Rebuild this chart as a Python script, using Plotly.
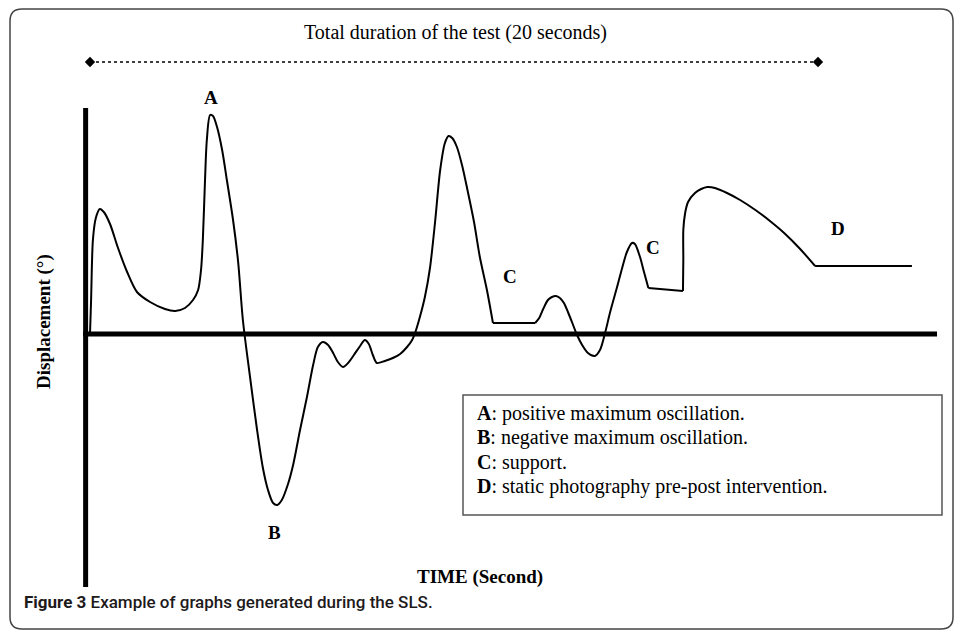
import plotly.graph_objects as go

W, H = 957, 632

# ---------------- data (time in s, displacement in degrees) ----------------
seg1_t = [0.00, 0.03, 0.08, 0.16, 0.27, 0.38, 0.55, 0.77, 1.02, 1.29, 1.65, 2.06, 2.34, 2.61,
          2.83, 2.97, 3.05, 3.10, 3.16, 3.21, 3.30, 3.38, 3.49, 3.63, 3.76, 3.93, 4.07, 4.20,
          4.40, 4.59, 4.75, 4.89, 5.03, 5.14, 5.27, 5.44, 5.58, 5.77, 5.96, 6.13, 6.26, 6.40,
          6.54, 6.68, 6.81, 6.95, 7.09, 7.25, 7.42, 7.55, 7.66, 7.77, 7.88, 8.10, 8.32, 8.52,
          8.71, 8.85, 8.93, 9.07, 9.20, 9.34, 9.48, 9.62, 9.75, 9.85, 9.95, 10.08, 10.22,
          10.37, 10.55, 10.71, 10.91, 11.07]
seg1_d = [0.0, 3.4, 9.4, 11.6, 12.5, 12.2, 11.0, 8.6, 6.2, 4.2, 3.2, 2.5, 2.3, 2.6,
          3.4, 4.4, 6.4, 9.4, 15.4, 19.4, 21.9, 21.8, 20.7, 18.4, 15.4, 11.4, 7.2, 1.4,
          -4.4, -9.6, -13.4, -15.6, -16.9, -17.1, -16.6, -15.0, -13.1, -9.6, -6.3, -3.1, -1.3, -0.8,
          -1.1, -1.9, -2.8, -3.3, -2.9, -2.1, -1.2, -0.6, -1.0, -2.1, -2.9, -2.7, -2.4, -2.0,
          -1.3, -0.6, 0.1, 1.8, 3.7, 6.6, 11.2, 16.4, 19.1, 19.8, 19.6, 18.7, 16.9,
          14.4, 11.2, 7.7, 4.3, 1.1]
seg2_t = [11.07, 12.23]
seg2_d = [1.1, 1.1]
seg3_t = [12.23, 12.34, 12.45, 12.58, 12.69, 12.80, 12.91, 13.02, 13.13, 13.24, 13.38, 13.52,
          13.68, 13.87, 14.01, 14.15, 14.29, 14.48, 14.62, 14.75, 14.89, 14.97, 15.11, 15.22, 15.34]
seg3_d = [1.1, 1.6, 2.5, 3.4, 3.7, 3.8, 3.6, 3.1, 2.2, 1.2, -0.1, -1.1,
          -1.9, -2.2, -1.6, 0.1, 2.2, 4.7, 6.6, 8.2, 9.1, 9.0, 7.7, 6.2, 4.6]
seg4_t = [15.34, 16.29]
seg4_d = [4.6, 4.3]
seg5_t = [16.29, 16.30, 16.30, 16.35, 16.43, 16.62, 16.79, 16.96, 17.17, 17.50, 17.86, 18.28,
          18.68, 19.07, 19.51, 19.92]
seg5_d = [4.3, 7.4, 10.4, 12.1, 13.2, 14.1, 14.5, 14.7, 14.6, 14.1, 13.4, 12.4,
          11.3, 10.1, 8.5, 6.8]
seg6_t = [19.92, 22.58]
seg6_d = [6.8, 6.8]

duration_t = [0, 20]          # total duration of the test (s)
point_labels = ["A", "B", "C", "C", "D"]
point_label_t = [3.32, 5.08, 11.54, 15.47, 20.55]
point_label_d = [23.7, -19.8, 5.8, 8.7, 10.6]

legend_keys = ["A", "B", "C", "D"]
legend_texts = ["positive maximum oscillation.", "negative maximum oscillation.",
                "support.", "static photography pre-post intervention."]

title_text = "Total duration of the test (20 seconds)"
y_label = "Displacement (°)"
x_label = "TIME (Second)"
caption_bold = "Figure 3"
caption_rest = "Example of graphs generated during the SLS."

# ---------------- figure ----------------
SERIF = "Liberation Serif, Times New Roman, serif"
segments = [(seg1_t, seg1_d, "spline"), (seg2_t, seg2_d, "linear"),
            (seg3_t, seg3_d, "spline"), (seg4_t, seg4_d, "linear"),
            (seg5_t, seg5_d, "spline"), (seg6_t, seg6_d, "linear")]

fig = go.Figure()
for t, d, shape in segments:
    fig.add_trace(go.Scatter(x=t, y=d, mode="lines",
                             line=dict(color="black", width=2, shape=shape, smoothing=0.8),
                             hoverinfo="skip"))

fig.add_trace(go.Scatter(x=duration_t, y=[27.2, 27.2], mode="lines+markers",
                         line=dict(color="black", width=1.5, dash="dot"),
                         marker=dict(symbol="diamond", size=8, color="black"),
                         hoverinfo="skip"))

def px(x):
    return x / W

def py(y):
    return 1 - y / H

shapes = []
# axes
shapes.append(dict(type="line", xref="x", yref="y", x0=-0.19, x1=23.27, y0=0, y1=0,
                   line=dict(color="black", width=5)))
shapes.append(dict(type="line", xref="x", yref="y", x0=-0.12, x1=-0.12, y0=-25.3, y1=22.6,
                   line=dict(color="black", width=5)))
# legend box
shapes.append(dict(type="rect", xref="paper", yref="paper", x0=px(463), x1=px(942),
                   y0=py(515), y1=py(395), line=dict(color="#555555", width=1.5)))
# rounded frame
L, R, T, B, r = 10, 953, 9, 629, 12
rx, ry = r / W, r / H
path = (f"M {px(L)+rx},{py(T)} L {px(R)-rx},{py(T)} Q {px(R)},{py(T)} {px(R)},{py(T)-ry} "
        f"L {px(R)},{py(B)+ry} Q {px(R)},{py(B)} {px(R)-rx},{py(B)} "
        f"L {px(L)+rx},{py(B)} Q {px(L)},{py(B)} {px(L)},{py(B)+ry} "
        f"L {px(L)},{py(T)-ry} Q {px(L)},{py(T)} {px(L)+rx},{py(T)} Z")
shapes.append(dict(type="path", xref="paper", yref="paper", path=path,
                   line=dict(color="#444444", width=1.5)))

ann = []
for lab, t, d in zip(point_labels, point_label_t, point_label_d):
    ann.append(dict(x=t, y=d, xref="x", yref="y", text=f"<b>{lab}</b>", showarrow=False,
                    xanchor="center", yanchor="middle",
                    font=dict(family=SERIF, size=19, color="black")))
for i, (k, txt) in enumerate(zip(legend_keys, legend_texts)):
    ann.append(dict(x=px(475), y=py(413 + i * 24.6), xref="paper", yref="paper",
                    xanchor="left", yanchor="middle", showarrow=False,
                    text=f"<b>{k}</b>: {txt}", font=dict(family=SERIF, size=20, color="black")))
ann.append(dict(x=px(455), y=py(32), xref="paper", yref="paper", text=title_text,
                xanchor="center", yanchor="middle",
                showarrow=False, font=dict(family=SERIF, size=20, color="black")))
ann.append(dict(x=px(44), y=py(322), xref="paper", yref="paper", text=f"<b>{y_label}</b>",
                xanchor="center", yanchor="middle",
                textangle=-90, showarrow=False, font=dict(family=SERIF, size=19, color="black")))
ann.append(dict(x=px(480), y=py(577), xref="paper", yref="paper", text=f"<b>{x_label}</b>",
                xanchor="center", yanchor="middle",
                showarrow=False, font=dict(family=SERIF, size=19, color="black")))
ann.append(dict(x=px(22), y=py(602), xref="paper", yref="paper", xanchor="left",
                yanchor="middle",
                text=f"<b>{caption_bold}</b> {caption_rest}", showarrow=False,
                font=dict(family="Roboto, Open Sans, sans-serif", size=17, color="#1e1a1b",
                          weight=500)))

fig.update_layout(
    width=W, height=H, margin=dict(l=0, r=0, t=0, b=0),
    paper_bgcolor="white", plot_bgcolor="white", showlegend=False,
    xaxis=dict(range=[-90 / 36.4, (W - 90) / 36.4], visible=False, fixedrange=True),
    yaxis=dict(range=[-29.8, 33.4], visible=False, fixedrange=True),
    shapes=shapes, annotations=ann,
)

fig.write_html("out.html", config={"displayModeBar": False},
               post_script="document.body.style.margin='0';document.body.style.overflow='hidden';")
